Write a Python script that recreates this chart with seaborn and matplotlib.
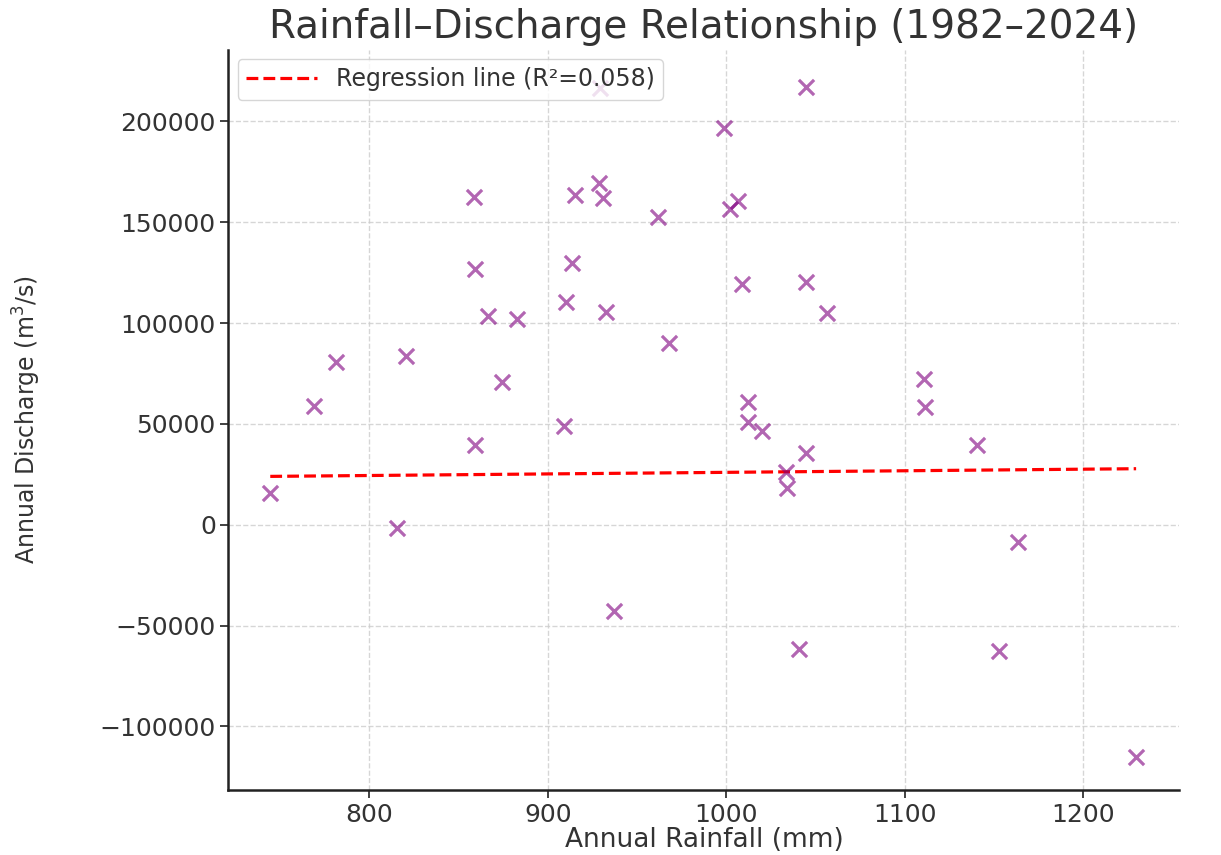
import numpy as np
import pandas as pd
import matplotlib
matplotlib.use("Agg")
import matplotlib.pyplot as plt
import seaborn as sns

# Values
rainfall = [744.5, 769, 781.5, 815.7, 820.7, 858.8, 859.4, 859.4, 866.7, 874.5,
            882.9, 909.2, 910.4, 913.7, 915.4, 928.9, 931.1, 929.4, 932.8, 937.3,
            961.9, 968.1, 998.9, 1002.2, 1006.7, 1009.0, 1012.3, 1012.3, 1020.2, 1033.6,
            1034.2, 1040.9, 1044.8, 1044.8, 1044.8, 1056.6, 1110.9, 1111.5, 1140.6, 1152.9,
            1163.6, 1229.7]
discharge = [15900, 59000, 80800, -1500, 83800, 162700, 127000, 39700, 103700, 70900,
             102200, 49100, 110600, 130000, 163700, 169600, 162200, 216800, 105600, -42700,
             152800, 90300, 196900, 156700, 160700, 119500, 61000, 51100, 46600, 26300,
             18400, -61500, 217200, 120500, 35700, 105100, 72400, 58500, 39700, -62500,
             -8400, -115100]

# fitted line endpoints as shown
reg_x = [744.5, 1229.7]
reg_y = [24000, 27800]
r2 = 0.058

df = pd.DataFrame({'rainfall': rainfall, 'discharge': discharge})
line_df = pd.DataFrame({'x': reg_x, 'y': reg_y})

sns.set_style('white')
plt.rcParams['font.family'] = ['DejaVu Sans']
plt.rcParams['text.color'] = '#333333'
plt.rcParams['axes.labelcolor'] = '#333333'
plt.rcParams['xtick.color'] = '#333333'
plt.rcParams['ytick.color'] = '#333333'

fig = plt.figure(figsize=(12.21, 8.55), dpi=100)
ax = fig.add_axes([0.187, 0.076, 0.779, 0.866])

sns.scatterplot(data=df, x='rainfall', y='discharge', marker='x', s=120,
                color='purple', alpha=0.6, linewidth=2.3, ax=ax, zorder=3)
sns.lineplot(data=line_df, x='x', y='y', color='red', linestyle='--', linewidth=2.3,
             label=f'Regression line (R²={r2:.3f})', ax=ax, zorder=2)

ax.set_xlim(721, 1254)
ax.set_ylim(-131500, 235600)
ax.set_xticks([800, 900, 1000, 1100, 1200])
ax.set_yticks([-100000, -50000, 0, 50000, 100000, 150000, 200000])
ax.grid(True, linestyle='--', color='#cccccc', alpha=0.8, linewidth=1)
ax.set_axisbelow(True)
sns.despine(ax=ax)
for sp in ['left', 'bottom']:
    ax.spines[sp].set_color('#222222')
    ax.spines[sp].set_linewidth(1.8)
ax.tick_params(axis='both', labelsize=18, length=6, width=1.3, direction='out',
               bottom=True, left=True, pad=3)

ax.set_title('Rainfall–Discharge Relationship (1982–2024)', fontsize=28, pad=8)
ax.set_xlabel('Annual Rainfall (mm)', fontsize=19, labelpad=0)
ax.set_ylabel('Annual Discharge (m$^3$/s)', fontsize=17)
ax.yaxis.set_label_coords(-0.195, 0.5)

leg = ax.legend(loc='upper left', fontsize=17, frameon=True, fancybox=True,
                framealpha=0.8, borderpad=0.35, handlelength=3, borderaxespad=0.4)
leg.get_frame().set_edgecolor('#cccccc')

plt.savefig('out.png', dpi=100)
